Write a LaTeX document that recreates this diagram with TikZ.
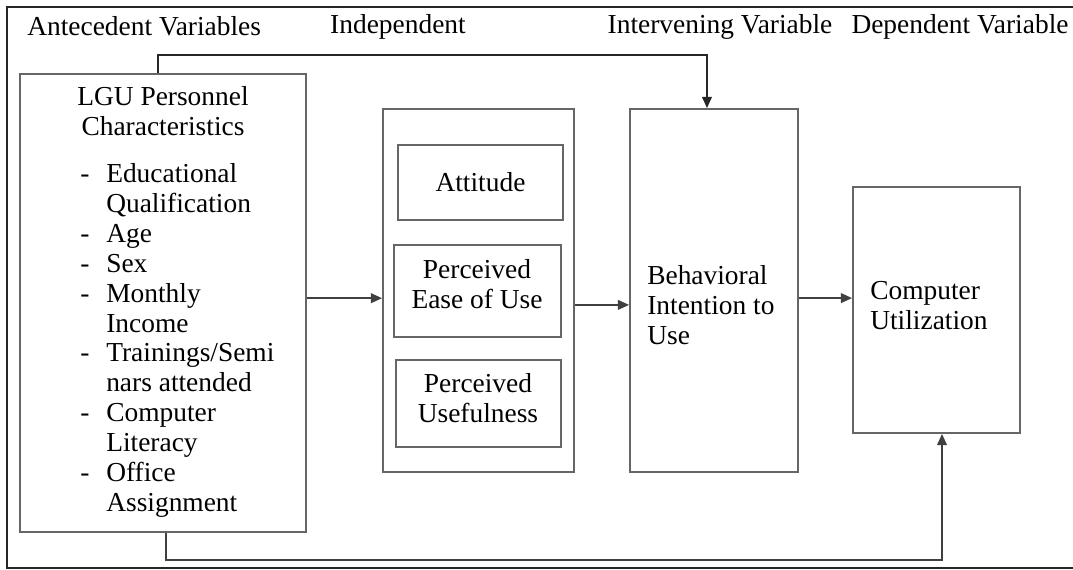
\documentclass[tikz,border=0pt]{standalone}
\usepackage{fontspec}
\setmainfont{Liberation Serif}
\usetikzlibrary{positioning,arrows.meta}

\tikzset{
  box/.style={draw=black!60, line width=1.3pt, inner sep=0pt},
  arr/.style={draw=black!75, line width=1.1pt, -{Triangle[length=8pt,width=7pt]}},
  lbl/.style={font=\fontsize{19.5pt}{21.3pt}\selectfont, inner sep=0pt},
}

\begin{document}
\begin{tikzpicture}[x=0.025cm, y=-0.025cm]
    \clip (0,0) rectangle (1073,570);
    % Outer frame
    \draw[line width=1.6pt, black!85] (7,7) rectangle (1090,568);

    % Headings
    \node[lbl, anchor=west] (hant) at (27,26) {Antecedent Variables};
    \node[lbl] (hind) at (398,27) {Independent};
    \node[lbl] (hint) at (720,27) {Intervening Variable};
    \node[lbl] (hdep) at (960,27) {Dependent Variable};

    % Boxes
    \node[box, minimum width=7.15cm, minimum height=11.45cm] (lgu) at (163,303) {};
    \node[box, minimum width=4.775cm, minimum height=9.075cm] (ind) at (478.5,290.5) {};
    \node[box, minimum width=4.125cm, minimum height=1.875cm] (att) at (480.5,182.5) {};
    \node[box, minimum width=4.175cm, minimum height=2.3cm] (peou) at (477.5,291) {};
    \node[box, minimum width=4.125cm, minimum height=2.175cm] (pu) at (478.5,403.5) {};
    \node[box, minimum width=4.2cm, minimum height=9.075cm] (bi) at (714,290.5) {};
    \node[box, minimum width=4.175cm, minimum height=6.15cm] (cu) at (936.5,310) {};

    % Texts
    \node[lbl, align=center] (lgutitle) at (163,111) {LGU Personnel\\Characteristics};
    \node[lbl, anchor=north west] (lgulist) at (80,161) {%
      \begin{tabular}{@{}p{0.65cm}@{}l@{}}
        - & Educational\\ & Qualification\\
        - & Age\\
        - & Sex\\
        - & Monthly\\ & Income\\
        - & Trainings/Semi\\ & nars attended\\
        - & Computer\\ & Literacy\\
        - & Office\\ & Assignment
      \end{tabular}};
    \node[lbl] (atttext) at (att) {Attitude};
    \node[lbl, align=center] (peoutext) at (477,284) {Perceived\\Ease of Use};
    \node[lbl, align=center] (putext) at (478,398) {Perceived\\Usefulness};
    \node[lbl, align=left, anchor=west] (bitext) at (647,305) {Behavioral\\Intention to\\Use};
    \node[lbl, align=left, anchor=west] (cutext) at (870,306) {Computer\\Utilization};

    % Connectors
    \coordinate (tl) at (158,55);
    \coordinate (tr) at (707,55);
    \coordinate (bl) at (166,560);
    \coordinate (br) at (942,560);
    \draw[arr, draw=black!85] (tl |- lgu.north) -- (tl) -- (tr) -- (tr |- bi.north);
    \draw[arr] (bl |- lgu.south) -- (bl) -- (br) -- (br |- cu.south);
    \draw[arr] ([yshift=0.12cm]lgu.east) -- ([yshift=0.12cm]lgu.east -| ind.west);
    \draw[arr] ([yshift=-0.36cm]ind.east) -- ([yshift=-0.36cm]ind.east -| bi.west);
    \draw[arr] ([yshift=-0.19cm]bi.east) -- ([yshift=-0.19cm]bi.east -| cu.west);
\end{tikzpicture}
\end{document}
